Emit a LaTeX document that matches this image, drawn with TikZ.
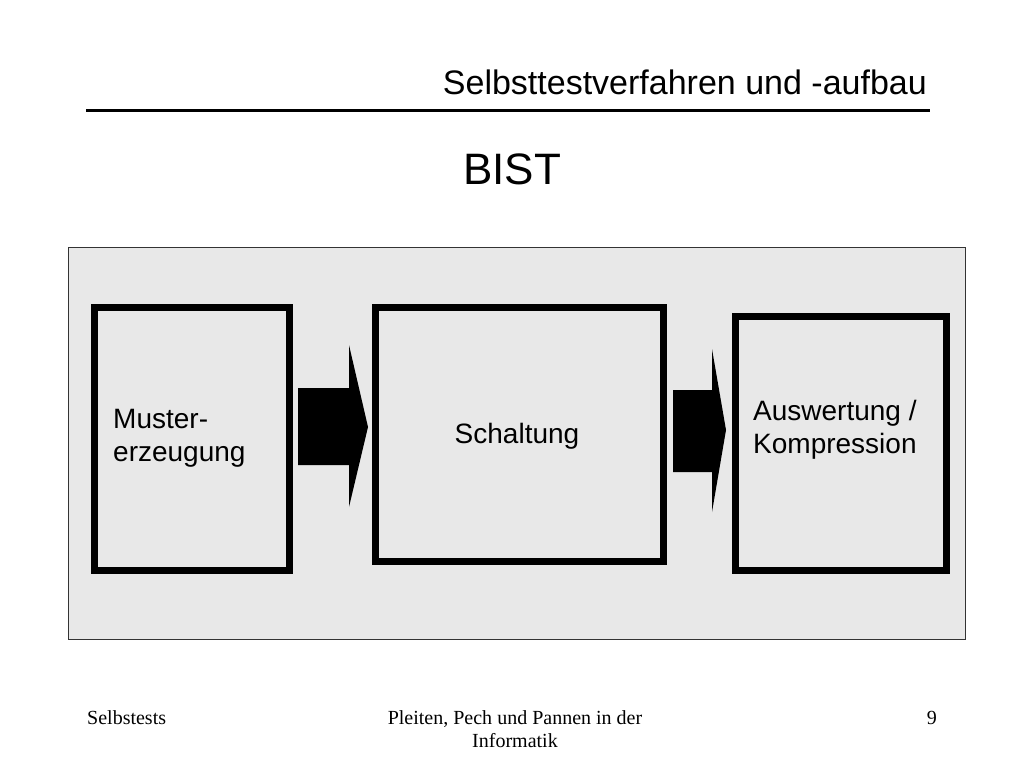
\documentclass[tikz,border=0pt]{standalone}
\usepackage{fontspec}
\setmainfont{Liberation Sans}
\newfontfamily\footfont{Liberation Serif}
\usepackage{tikz}

\tikzset{
  stage/.style={draw=black, line width=7pt, fill=black!9, inner sep=0pt},
  label/.style={inner sep=0pt, font=\fontsize{28}{33}\selectfont},
  foot/.style={inner sep=0pt, font=\footfont\fontsize{20}{23}\selectfont},
  blockarrow/.style={fill=black}
}

\begin{document}
\begin{tikzpicture}[x=1pt,y=-1pt]
        \useasboundingbox (0,0) rectangle (1024,768);
        % Title and rule
        \node[inner sep=0pt, anchor=base east, font=\fontsize{34}{40}\selectfont] (title) at (927,94) {Selbsttestverfahren und -aufbau};
        \draw[line width=3pt] (86,110) -- (930,110);
        \node[inner sep=0pt, anchor=base, font=\fontsize{44}{52}\selectfont] (bist) at (512,184) {BIST};
        % Grey panel
        \draw[draw=black!80, line width=1pt, fill=black!9] (68,247) rectangle (965,639);
        % Stages
        \node[stage, minimum width=195pt, minimum height=263pt] (muster) at (192,439) {};
        \node[stage, minimum width=288pt, minimum height=254pt] (schaltung) at (519.5,434.5) {};
        \node[stage, minimum width=211pt, minimum height=254pt] (auswertung) at (841,443.5) {};
        \node[label, anchor=base west] (mustertext) at (113,428) {Muster-};
        \node[label, anchor=base west] (erzeugtext) at (113,461) {erzeugung};
        \node[label, anchor=base] (schalttext) at (517,443) {Schaltung};
        \node[label, anchor=base west] (auswtext) at (753,420) {Auswertung /};
        \node[label, anchor=base west] (komptext) at (753,453) {Kompression};
        % Block arrows
        \fill[blockarrow] (298,388) -- (349,388) -- (349,345) -- (368,427) -- (349,507) -- (349,465) -- (298,465) -- cycle;
        \fill[blockarrow] (673,390) -- (712,390) -- (712,349) -- (726,430) -- (712,512) -- (712,472) -- (673,472) -- cycle;
        % Footer
        \node[foot, anchor=base west] (footleft) at (87,724) {Selbstests};
        \node[foot, anchor=base] (footmid) at (515,724) {Pleiten, Pech und Pannen in der};
        \node[foot, anchor=base] (footmid2) at (515,747) {Informatik};
        \node[foot, anchor=base east] (footright) at (937,724) {9};
      \end{tikzpicture}
\end{document}
